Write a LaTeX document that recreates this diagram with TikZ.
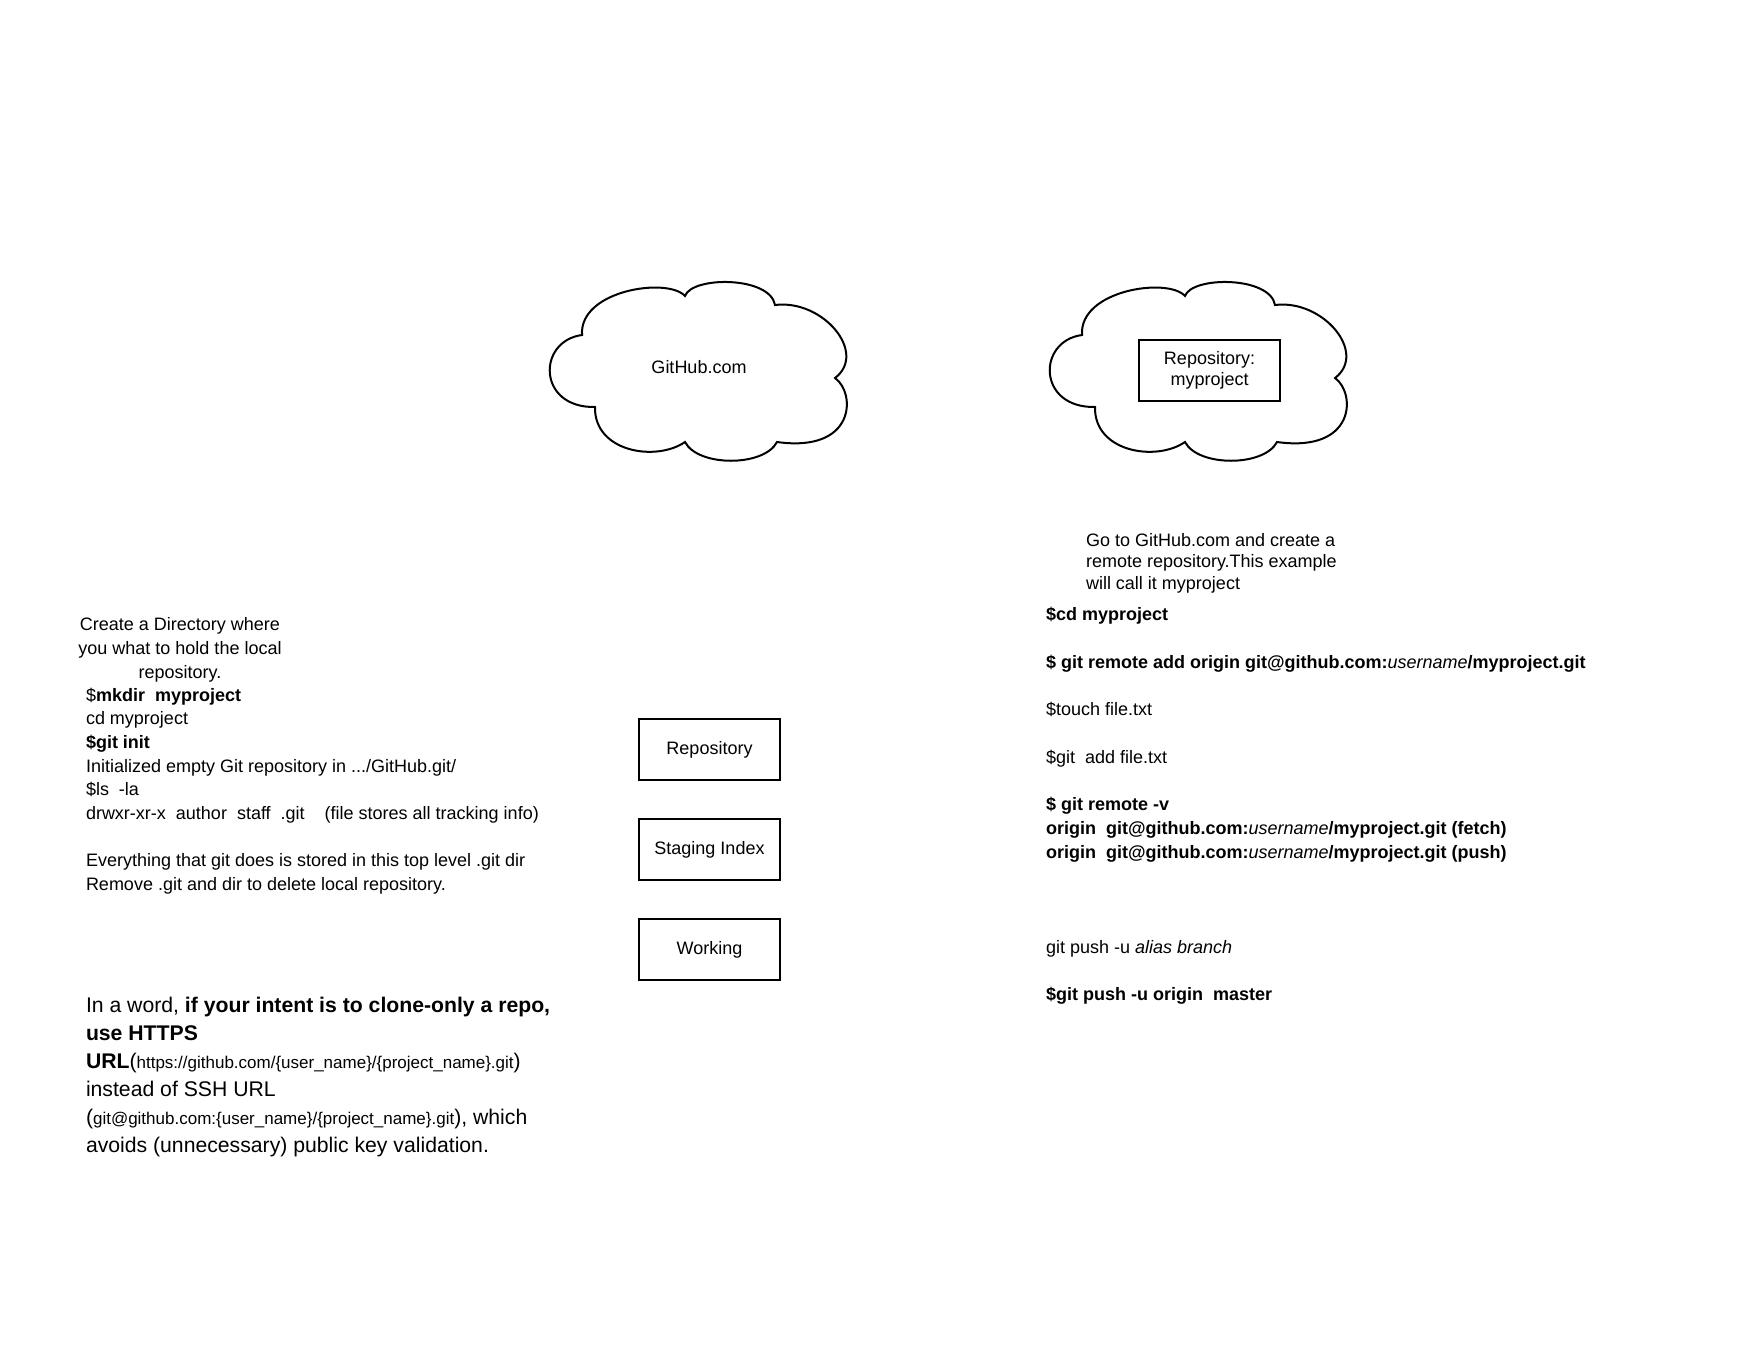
\documentclass[tikz,border=0pt]{standalone}
\usepackage{fontspec}
\setmainfont{Liberation Sans}
\usetikzlibrary{positioning}

\newcommand{\urlsize}{\fontsize{17}{28}\selectfont}
\newcommand{\uname}{{\mdseries\itshape username}}

\begin{document}
\begin{tikzpicture}[x=1pt, y=-1pt, line width=2pt, node distance=100pt,
  block/.style={rectangle, draw, minimum width=141pt, minimum height=61pt, inner sep=0pt, align=center, font=\fontsize{18}{21.6}\selectfont},
  note/.style={inner sep=0pt, align=left, anchor=base west, font=\fontsize{18}{23.7}\selectfont},
  puffcloud/.pic={
    \draw (33,54) .. controls (30,9) and (119,-4) .. (136,15)
      .. controls (143,-5) and (221,-5) .. (226,24)
      .. controls (274,18) and (319,72) .. (286,97)
      .. controls (307,112) and (307,172) .. (228,161)
      .. controls (215,186) and (149,186) .. (136,161)
      .. controls (107,181) and (45,171) .. (46,126)
      .. controls (-12,127) and (-12,60) .. cycle;
  }]

  \useasboundingbox (0,0) rectangle (1760,1360);

  % the remote side
  \pic at (549,281) {puffcloud};
  \node[font=\fontsize{18}{21.6}\selectfont] (github) at (699,367) {GitHub.com};

  \pic at (1049,281) {puffcloud};
  \node[block] (remote) at (1209.5,370.5) {Repository:\\myproject};

  % the three local areas
  \node[block] (repo) at (709.5,749.5) {Repository};
  \node[block, below of=repo] (staging) {Staging Index};
  \node[block, below of=staging] (working) {Working};

  % notes (base = baseline of the last line)
  \node[note, anchor=base, align=center] (mkdirnote) at (180,678) {Create a Directory where\\you what to hold the local\\repository.};
  \node[note] (initcmds) at (85,890.6) {\$\textbf{mkdir\ \ myproject}\\
    cd myproject\\
    \textbf{\$git init}\\
    Initialized empty Git repository in .../GitHub.git/\\
    \$ls\ \ -la\\
    drwxr-xr-x\ \ author\ \ staff\ \ .git\ \ \ \ (file stores all tracking info)\\[23.7pt]
    Everything that git does is stored in this top level .git dir\\
    Remove .git and dir to delete local repository.};

  \node[note, font=\fontsize{21.2}{28}\selectfont] (httpsnote) at (85,1152) {In a word, \textbf{if your intent is to clone-only a repo,}\\
    \textbf{use HTTPS}\\
    \textbf{URL}({\urlsize https://github.com/\{user\_name\}/\{project\_name\}.git})\\
    instead of SSH URL\\
    ({\urlsize git@github.com:\{user\_name\}/\{project\_name\}.git}), which\\
    avoids (unnecessary) public key validation.};

  \node[note, font=\fontsize{18}{21.6}\selectfont] (remotenote) at (1085,589.2) {Go to GitHub.com and create a\\remote repository.This example\\will call it myproject};

  \node[note, font=\fontsize{18}{23.75}\selectfont] (pushcmds) at (1045,1000.5) {\textbf{\$cd myproject}\\[23.75pt]
    \textbf{\$ git remote add origin git@github.com:\uname/myproject.git}\\[23.75pt]
    \$touch file.txt\\[23.75pt]
    \$git\ \ add file.txt\\[23.75pt]
    \textbf{\$ git remote -v}\\
    \textbf{origin\ \ git@github.com:\uname/myproject.git (fetch)}\\
    \textbf{origin\ \ git@github.com:\uname/myproject.git (push)}\\[71.25pt]
    git push -u \textit{alias branch}\\[23.75pt]
    \textbf{\$git push -u origin\ \ master}};

\end{tikzpicture}
\end{document}
